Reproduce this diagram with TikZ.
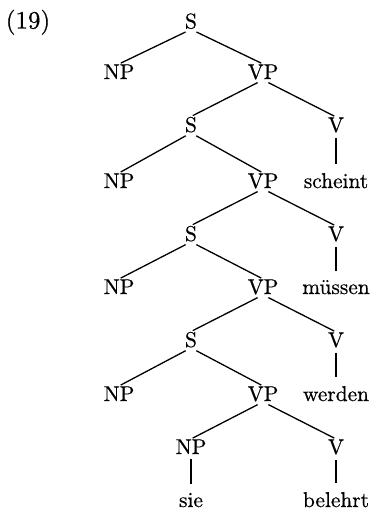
\documentclass[tikz,border=0pt]{standalone}
\usepackage{tikz}
\usepackage{amsmath}
\usepackage{fontspec}
\newfontfamily\treefont{lmroman10-regular.otf}[FakeBold=0.6]

\tikzset{
    cat/.style={inner sep=0pt, anchor=base, font=\treefont\fontsize{10.7}{12}\selectfont},
    branch/.style={line width=0.65pt, shorten <=3pt, shorten >=1pt},
    stem/.style={line width=0.65pt, shorten <=2.5pt, shorten >=4.5pt}
}

\begin{document}
\begin{tikzpicture}[x=0.5pt, y=-0.5pt]

    % Page frame
    \useasboundingbox (0, 0) rectangle (373, 511);

    % Example number
    \node[cat, font=\treefont\fontsize{12.5}{14}\selectfont] (num) at (28, 28.5) {(19)};

    % Top clause
    \node[cat] (S1) at (191, 28.5) {S};
    \node[cat] (NP1) at (119, 79) {NP};
    \node[cat] (VP1) at (263, 79) {VP};

    % Second clause
    \node[cat] (S2) at (191, 132) {S};
    \node[cat] (V2) at (336, 132) {V};
    \node[cat] (NP2) at (119, 188) {NP};
    \node[cat] (VP2) at (263, 188) {VP};
    \node[cat] (scheint) at (336, 188) {scheint};

    % Third clause
    \node[cat] (S3) at (191, 241) {S};
    \node[cat] (V3) at (336, 241) {V};
    \node[cat] (NP3) at (119, 294) {NP};
    \node[cat] (VP3) at (263, 294) {VP};
    \node[cat] (muessen) at (336, 294) {müssen};

    % Fourth clause
    \node[cat] (S4) at (191, 347) {S};
    \node[cat] (V4) at (336, 347) {V};
    \node[cat] (NP4) at (119, 401) {NP};
    \node[cat] (VP4) at (263, 401) {VP};
    \node[cat] (werden) at (336, 401) {werden};

    % Lowest VP
    \node[cat] (NP5) at (191, 454) {NP};
    \node[cat] (V5) at (336, 454) {V};
    \node[cat] (sie) at (191, 507) {sie};
    \node[cat] (belehrt) at (336, 507) {belehrt};

    % Branches
    \foreach \a/\b in {S1/NP1, S1/VP1, VP1/S2, VP1/V2, S2/NP2, S2/VP2,
                       VP2/S3, VP2/V3, S3/NP3, S3/VP3, VP3/S4, VP3/V4,
                       S4/NP4, S4/VP4, VP4/NP5, VP4/V5} {
        \draw[branch] (\a.south) -- (\b.north);
    }

    % Lexical items
    \foreach \a/\b in {V2/scheint, V3/muessen, V4/werden, NP5/sie, V5/belehrt} {
        \draw[stem] (\a.south) -- (\b.north);
    }

\end{tikzpicture}
\end{document}
